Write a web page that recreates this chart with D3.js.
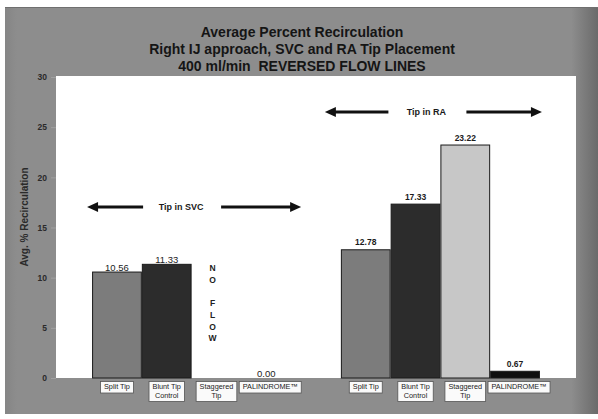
<!DOCTYPE html>
<html><head><meta charset="utf-8">
<script src="https://cdn.jsdelivr.net/npm/d3@7/dist/d3.min.js"></script>
<style>
html,body{margin:0;padding:0;background:#fff;}
svg{display:block;font-family:"Liberation Sans",Arial,sans-serif;}
text{white-space:pre;}
</style></head>
<body>
<svg id="chart" width="598" height="419"></svg>
<script>
// ---- data ----
const groups = ["Tip in SVC", "Tip in RA"];
const categories = ["Split Tip", "Blunt Tip|Control", "Staggered|Tip", "PALINDROME\u2122"];
const svcValues = [10.56, 11.33, null, 0.00];
const raValues = [12.78, 17.33, 23.22, 0.67];
const yTicks = [0, 5, 10, 15, 20, 25, 30];
const titleLines = ["Average Percent Recirculation", "Right IJ approach, SVC and RA Tip Placement", "400 ml/min  REVERSED FLOW LINES"];
const yTitle = "Avg. % Recirculation";
const noFlowLetters = ["N", "O", "", "F", "L", "O", "W"];
const arrowLevels = [17.05, 26.5];

const barColors = ["#7c7c7c", "#2c2c2c", "#c7c7c7", "#0f0f0f"];

const svg = d3.select("#chart");
const defs = svg.append("defs");
const grad = defs.append("linearGradient").attr("id", "bg").attr("x1", "0").attr("x2", "1").attr("y1", "0").attr("y2", "0");
grad.append("stop").attr("offset", "0").attr("stop-color", "#858585");
grad.append("stop").attr("offset", "0.02").attr("stop-color", "#8d8d8d");
grad.append("stop").attr("offset", "0.955").attr("stop-color", "#8d8d8d");
grad.append("stop").attr("offset", "1").attr("stop-color", "#6a6a6a");

// panel
svg.append("rect").attr("x", 5).attr("y", 7).attr("width", 593).attr("height", 407).attr("fill", "url(#bg)");
svg.append("line").attr("x1", 5).attr("x2", 598).attr("y1", 7.5).attr("y2", 7.5).attr("stroke", "#6f6f6f").attr("stroke-width", 1);

const plot = {left: 56, right: 576, top: 76, bottom: 378};
svg.append("rect").attr("x", plot.left).attr("y", plot.top)
  .attr("width", plot.right - plot.left).attr("height", plot.bottom - plot.top).attr("fill", "#ffffff");

const x0 = d3.scaleBand().domain(groups).range([plot.left, plot.right]).paddingInner(0.2).paddingOuter(0.145);
const x1 = d3.scaleBand().domain(d3.range(categories.length)).range([0, x0.bandwidth()]).padding(0);
const y = d3.scaleLinear().domain([0, 30]).range([378, 77]);

// title
const title = svg.append("text").attr("text-anchor", "middle").attr("font-weight", "bold")
  .attr("font-size", 14).attr("fill", "#151515");
titleLines.forEach((t, i) => {
  title.append("tspan").attr("x", 302).attr("y", 37 + i * 16.8).text(t);
});

// y axis
const yAxis = d3.axisLeft(y).tickValues(yTicks).tickSize(5).tickPadding(4);
const ya = svg.append("g").attr("transform", `translate(${plot.left},0)`).call(yAxis);
ya.select(".domain").remove();
ya.selectAll(".tick line").attr("stroke", "#a0a0a0");
ya.selectAll(".tick text").attr("font-size", 8.5).attr("font-weight", "bold").attr("fill", "#2a2a2a")
  .attr("font-family", "Liberation Sans, Arial, sans-serif");

svg.append("text").attr("transform", "translate(28,217) rotate(-90)").attr("text-anchor", "middle")
  .attr("font-size", 10).attr("font-weight", "bold").attr("fill", "#2a2a2a").text(yTitle);

// bars
const seriesByGroup = [svcValues, raValues];
groups.forEach((g, gi) => {
  const vals = seriesByGroup[gi];
  const gEl = svg.append("g").attr("transform", `translate(${x0(g)},0)`);
  vals.forEach((v, ci) => {
    if (v === null) return;
    const bx = x1(ci), bw = x1.bandwidth();
    if (v > 0) {
      gEl.append("rect").attr("x", bx + 0.5).attr("y", y(v)).attr("width", bw - 1).attr("height", y(0) - y(v))
        .attr("fill", barColors[ci]).attr("stroke", "#1a1a1a").attr("stroke-width", 1);
    }
    const off = gi === 0 ? 1.5 : 4.5;
    gEl.append("text").attr("x", bx + bw / 2).attr("y", y(v) - off).attr("text-anchor", "middle")
      .attr("font-size", gi === 0 ? 9.5 : 8.5).attr("font-weight", gi === 0 ? "normal" : "bold")
      .attr("fill", "#1c1c1c").text(v.toFixed(2));
  });
  // category label boxes
  categories.forEach((c, ci) => {
    const lines = c.split("|");
    const cx = x1(ci) + x1.bandwidth() / 2 + (ci === 3 ? 4 : 0);
    const lg = gEl.append("g");
    const t = lg.append("text").attr("text-anchor", "middle").attr("font-size", 7.3).attr("fill", "#222");
    lines.forEach((l, li) => t.append("tspan").attr("x", cx).attr("y", 389 + li * 8.5).text(l));
    const bb = t.node().getBBox();
    lg.insert("rect", "text").attr("x", bb.x - 3.5).attr("y", 381.5).attr("width", bb.width + 7)
      .attr("height", lines.length * 8.5 + 3).attr("fill", "#fafafa").attr("stroke", "#555").attr("stroke-width", 0.8);
  });
});

// NO FLOW annotation in empty slot
const svcStag = x0(groups[0]) + x1(2) + x1.bandwidth() / 2 - 4;
const nf = svg.append("text").attr("text-anchor", "middle").attr("font-size", 8.5).attr("font-weight", "bold").attr("fill", "#222");
noFlowLetters.forEach((l, i) => nf.append("tspan").attr("x", svcStag).attr("y", 271 + i * 11.7).text(l));

// arrows
const arrowCfg = [{l: -5, r: 10, tdx: -13}, {l: -16, r: 2, tdx: -7}];
groups.forEach((g, gi) => {
  const a = arrowCfg[gi];
  const xl = x0(g) + a.l, xr = x0(g) + x0.bandwidth() + a.r;
  const yy = y(arrowLevels[gi]);
  const tc = (xl + xr) / 2 + a.tdx;
  const ag = svg.append("g");
  ag.append("line").attr("x1", xl + 8).attr("x2", tc - 38).attr("y1", yy).attr("y2", yy).attr("stroke", "#111").attr("stroke-width", 3);
  ag.append("line").attr("x1", tc + 40).attr("x2", xr - 8).attr("y1", yy).attr("y2", yy).attr("stroke", "#111").attr("stroke-width", 3);
  ag.append("path").attr("d", `M${xl},${yy}L${xl + 11},${yy - 5}L${xl + 11},${yy + 5}Z`).attr("fill", "#111");
  ag.append("path").attr("d", `M${xr},${yy}L${xr - 11},${yy - 5}L${xr - 11},${yy + 5}Z`).attr("fill", "#111");
  ag.append("text").attr("x", tc).attr("y", yy + 3).attr("text-anchor", "middle").attr("font-size", 9)
    .attr("font-weight", "bold").attr("fill", "#1a1a1a").text(g);
});
</script>
</body></html>
